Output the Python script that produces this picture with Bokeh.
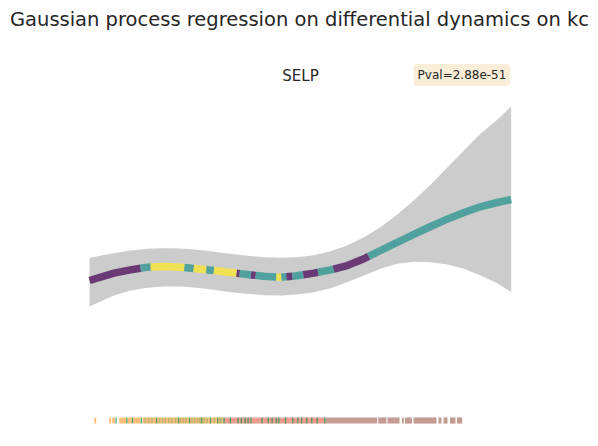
import numpy as np
from bokeh.plotting import figure
from bokeh.models import Label, Range1d
from bokeh.embed import file_html
from bokeh.resources import INLINE

# ---- data ----
pseudotime = [0, 5.8, 9.7, 13.7, 17.6, 21.6, 25.5, 29.5, 33.4, 37.4, 41.3, 45.3, 49.2,
              53.2, 57.2, 61.1, 65.1, 69.0, 73.0, 76.9, 80.9, 84.8, 88.8, 92.7, 96.7, 100]
mean_expr = [0.0, 0.18, 0.26, 0.325, 0.34, 0.325, 0.285, 0.245, 0.195, 0.145, 0.105, 0.08, 0.115,
             0.18, 0.26, 0.365, 0.53, 0.732, 0.93, 1.122, 1.317, 1.496, 1.659, 1.797, 1.902, 1.976]
upper_ci = [0.553, 0.667, 0.732, 0.772, 0.789, 0.780, 0.748, 0.699, 0.650, 0.602, 0.569, 0.553, 0.569,
            0.618, 0.715, 0.854, 1.057, 1.301, 1.610, 1.951, 2.333, 2.748, 3.171, 3.577, 3.919, 4.244]
lower_ci = [-0.634, -0.366, -0.244, -0.179, -0.146, -0.146, -0.179, -0.228, -0.285, -0.325, -0.358, -0.366, -0.341,
            -0.285, -0.187, -0.041, 0.122, 0.285, 0.407, 0.455, 0.447, 0.390, 0.285, 0.122, -0.065, -0.285]

# cluster assignment along the fitted curve
seg_start = [0, 12.1, 14.5, 22.5, 24.7, 27.7, 29.5, 34.9, 35.6, 38.3, 39.4, 44.3, 45.5, 46.7, 48.1, 50.7, 54.2, 57.9, 66.2]
seg_end = [12.1, 14.5, 22.5, 24.7, 27.7, 29.5, 34.9, 35.6, 38.3, 39.4, 44.3, 45.5, 46.7, 48.1, 50.7, 54.2, 57.9, 66.2, 100]
seg_cluster = ["c0", "c1", "c2", "c1", "c2", "c1", "c2", "c0", "c1", "c0", "c1", "c2", "c1", "c0", "c1", "c0", "c1", "c0", "c1"]
cluster_colors = {"c0": "#440154", "c1": "#21918c", "c2": "#fde725"}

# rug of cells (bottom), intervals of dense cells and single cells
rug_start = [1.14, 4.67, 5.38, 7.04, 9.01, 10.36, 12.57, 31.78,
             55.97, 68.47, 70.67, 74.11, 74.82, 76.84, 82.76, 83.95, 85.49, 87.15]
rug_end = [1.59, 5.15, 6.0, 8.70, 10.08, 12.09, 31.78, 55.97,
           68.23, 70.43, 73.52, 74.54, 76.48, 82.29, 83.48, 84.90, 86.80, 88.39]
rug_group = ["A", "A", "A", "A", "A", "A", "A", "C",
             "D", "D", "D", "D", "D", "D", "D", "D", "D", "D"]
rug_green_cells = [6.3, 8.85, 10.2, 12.3, 15.9, 21.1, 23.7, 26.6, 28.7, 30.4, 31.9, 33.4,
                   35.2, 36.0, 36.9, 37.6, 38.3, 40.9, 42.4, 43.3, 44.3, 44.9, 46.5, 48.2,
                   49.4, 50.3, 51.5, 52.7, 54.0, 55.8]
rug_mixed_cells = [13.2, 14.0, 14.8, 16.6, 17.3, 18.0, 18.8, 19.5, 20.4, 21.6, 22.3, 22.9,
                   24.3, 25.0, 25.7, 26.2, 27.2, 27.9, 29.6, 30.9, 31.3]
rug_colors = {"A": "#fdbe7a", "B": "#2e9e62", "C": "#ee9a8e", "D": "#c49c94"}

title_text = "Gaussian process regression on differential dynamics on kc"
gene_name = "SELP"
pval_text = "Pval=2.88e-51"

# ---- figure ----
p = figure(width=598, height=446, x_range=Range1d(-21.11, 120.71), y_range=Range1d(-4.049, 6.829),
           output_backend="svg", toolbar_location=None, min_border=0,
           x_axis_location=None, y_axis_location=None)
p.grid.visible = False
p.outline_line_color = None
p.background_fill_color = "white"
p.border_fill_color = "white"

# confidence band
p.varea(x=pseudotime, y1=lower_ci, y2=upper_ci, fill_color="#cccccc", fill_alpha=1.0)

# coloured mean curve
pt = np.array(pseudotime)
mu = np.array(mean_expr)
xs, ys, cols = [], [], []
for s, e, c in zip(seg_start, seg_end, seg_cluster):
    inner = [v for v in pseudotime if s < v < e]
    sx = [s] + inner + [e]
    xs.append(sx)
    ys.append(list(np.interp(sx, pt, mu)))
    cols.append(cluster_colors[c])
p.multi_line(xs=xs, ys=ys, line_color=cols, line_width=7.5, line_alpha=0.72,
             line_cap="butt", line_join="round")

# rug
rug_bottom, rug_top = -3.49, -3.34
p.quad(left=rug_start, right=rug_end, bottom=rug_bottom, top=rug_top,
       fill_color=[rug_colors[g] for g in rug_group], line_color=None)
p.segment(x0=rug_mixed_cells, x1=rug_mixed_cells, y0=rug_bottom, y1=rug_top,
          line_color=rug_colors["B"], line_alpha=0.3, line_width=1.6)
p.segment(x0=rug_green_cells, x1=rug_green_cells, y0=rug_bottom, y1=rug_top,
          line_color=rug_colors["B"], line_alpha=0.85, line_width=1.3)

# texts
p.add_layout(Label(x=299, y=427, x_units="screen", y_units="screen", text=title_text,
                   text_align="center", text_baseline="middle", text_font="DejaVu Sans",
                   text_font_size="19.5px", text_color="#262626"))
p.add_layout(Label(x=300, y=371, x_units="screen", y_units="screen", text=gene_name,
                   text_align="center", text_baseline="middle", text_font="DejaVu Sans",
                   text_font_size="15px", text_color="#262626"))
p.add_layout(Label(x=461.5, y=371.5, x_units="screen", y_units="screen", text=pval_text,
                   text_align="center", text_baseline="middle", text_font="DejaVu Sans",
                   text_font_size="12px", text_color="#262626",
                   background_fill_color="wheat", background_fill_alpha=0.5,
                   border_line_color=None, padding=4, border_radius=4))

open("out.html", "w").write(file_html(p, INLINE))
